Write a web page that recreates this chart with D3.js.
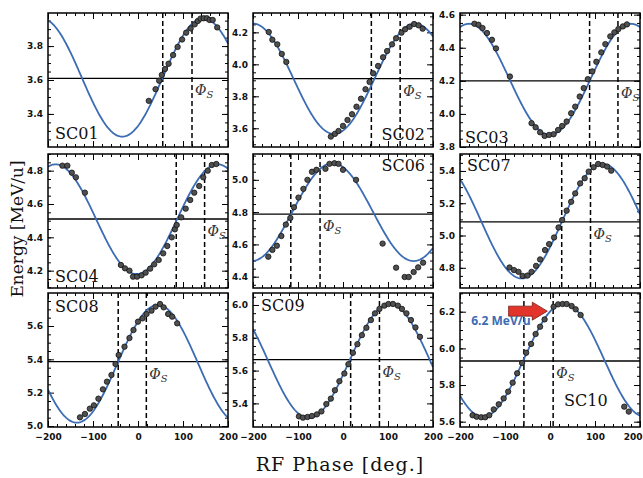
<!DOCTYPE html>
<html>
<head>
<meta charset="utf-8">
<script src="https://cdn.jsdelivr.net/npm/d3@7"></script>
<style>
    body { margin: 0; background: #fff; }
    svg { display: block; }
    .ticklab text { font-family: "DejaVu Sans"; font-weight: bold; font-size: 9px; fill: #111; }
    .ticks path.domain { display: none; }
    .ticks line { stroke: #000; stroke-width: 1; }
</style>
</head>
<body>
<div id="vis"></div>
<script>
// Cavity names, one panel each
var cavities = ["SC01", "SC02", "SC03", "SC04", "SC06", "SC07", "SC08", "SC09", "SC10"];

// Energy axis extent of each panel [MeV/u]
var energyRanges = [
    [3.205, 3.995], [3.483, 4.321], [3.8, 4.61],
    [4.096, 4.9], [4.33, 5.16], [4.675, 5.505],
    [4.994, 5.798], [5.256, 6.073], [5.571, 6.302]
];

// Phase axis [deg.]
var phaseRange = [-200, 200];

// Horizontal reference energy in each panel
var refEnergy = [3.61, 3.91, 4.2, 4.51, 4.787, 5.085, 5.386, 5.667, 5.931];

// Dashed phase markers, second one is the synchronous phase
var phaseMarks = [
    [55, 120], [63, 127], [88, 151],
    [85, 148], [-116, -51], [26, 90],
    [-44, 18.5], [17, 81], [-58, 7]
];

// Cosine fit of each scan: offset, amplitude, phase of the peak
var fitOffset = [3.615, 3.91, 4.21, 4.509, 4.80, 5.089, 5.373, 5.658, 5.936];
var fitAmplitude = [0.349, 0.345, 0.335, 0.329, 0.303, 0.355, 0.353, 0.348, 0.309];
var fitPeak = [145, 160, 180, 177, -23, 117, 44, 104, 31];

// Measured phase scans [phase, energy]
var scanSC01 = [[24,3.477],[39,3.546],[47,3.596],[53,3.63],[60,3.665],[68,3.696],[78,3.747],[88,3.795],
    [98,3.839],[107,3.879],[117,3.904],[126,3.928],[133,3.948],[139,3.962],[146,3.964],[153,3.964],
    [159,3.954],[166,3.954],[176,3.91]];
var scanSC02 = [[-165,4.202],[-157,4.154],[-146,4.125],[-136,4.065],[-126,4.015],[-27,3.548],[-18,3.565],
    [-10,3.583],[0,3.615],[10,3.652],[20,3.688],[30,3.735],[40,3.785],[50,3.844],[59,3.89],[67,3.944],
    [78,3.99],[89,4.044],[98,4.083],[109,4.125],[118,4.163],[130,4.198],[138,4.219],[148,4.235],
    [158,4.252],[168,4.244],[177,4.223]];
var scanSC03 = [[-168,4.545],[-159,4.539],[-150,4.519],[-140,4.489],[-129,4.448],[-120,4.396],[-89,4.226],
    [-41,3.944],[-32,3.919],[-22,3.889],[-12,3.867],[-2,3.873],[8,3.877],[18,3.903],[27,3.927],
    [37,3.954],[47,4.004],[56,4.044],[66,4.105],[75,4.156],[84,4.21],[94,4.257],[103,4.315],
    [114,4.372],[123,4.422],[134,4.469],[143,4.493],[152,4.513],[162,4.529],[171,4.541]];
var scanSC04 = [[-168,4.83],[-157,4.83],[-147,4.788],[-138,4.76],[-118,4.668],[-38,4.234],[-29,4.214],
    [-19,4.2],[-11,4.164],[-2,4.164],[8,4.172],[17,4.188],[27,4.212],[36,4.238],[46,4.264],
    [56,4.304],[65,4.348],[75,4.4],[82,4.448],[86,4.474],[96,4.52],[106,4.572],[116,4.624],
    [125,4.668],[136,4.708],[145,4.76],[155,4.8],[164,4.834],[174,4.84]];
var scanSC06 = [[-166,4.524],[-157,4.566],[-147,4.592],[-137,4.652],[-127,4.723],[-117,4.764],[-109,4.83],
    [-99,4.89],[-88,4.944],[-79,5.0],[-69,5.05],[-59,5.062],[-39,5.068],[-30,5.099],[-19,5.103],
    [-10,5.099],[0,5.062],[29,5.0],[88,4.605],[118,4.456],[137,4.398],[146,4.398],[157,4.429],
    [167,4.458],[178,4.487]];
var scanSC07 = [[-90,4.802],[-80,4.786],[-70,4.775],[-61,4.75],[-50,4.752],[-41,4.775],[-31,4.812],
    [-22,4.852],[-11,4.91],[-2,4.947],[9,4.988],[19,5.05],[27,5.096],[37,5.154],[47,5.209],
    [56,5.261],[67,5.323],[77,5.355],[86,5.396],[97,5.423],[107,5.443],[117,5.437],[127,5.427],
    [136,5.402]];
var scanSC08 = [[-129,5.052],[-118,5.072],[-107,5.104],[-98,5.124],[-88,5.164],[-78,5.22],[-69,5.266],
    [-59,5.306],[-50,5.372],[-43,5.426],[-30,5.476],[-19,5.528],[-10,5.576],[0,5.626],[10,5.646],
    [19,5.672],[30,5.692],[39,5.716],[49,5.732],[57,5.712],[67,5.672],[76,5.656],[87,5.616]];
var scanSC09 = [[-98,5.321],[-89,5.313],[-79,5.317],[-69,5.323],[-58,5.333],[-48,5.351],[-37,5.396],
    [-27,5.429],[-18,5.48],[-8,5.535],[3,5.582],[12,5.639],[22,5.708],[32,5.761],[42,5.816],
    [52,5.861],[62,5.908],[71,5.949],[81,5.976],[92,5.996],[101,6.006],[111,6.006],[122,5.996],
    [131,5.976],[141,5.949],[151,5.908],[161,5.863],[171,5.806]];
var scanSC10 = [[-172,5.635],[-163,5.627],[-153,5.624],[-144,5.624],[-135,5.635],[-125,5.667],[-114,5.695],
    [-103,5.727],[-93,5.764],[-83,5.813],[-73,5.864],[-62,5.92],[-53,5.976],[-42,6.024],[-32,6.078],
    [-22,6.118],[-12,6.158],[8,6.227],[18,6.24],[28,6.242],[37,6.242],[48,6.231],[57,6.213],
    [68,6.182],[165,5.682],[175,5.655]];
var scans = [scanSC01, scanSC02, scanSC03, scanSC04, scanSC06, scanSC07, scanSC08, scanSC09, scanSC10];

// SC10 annotation: arrow (tail, tip) and label anchor, in data units
var arrowTail = [-92, 6.203];
var arrowTip = [-6, 6.203];
var noteText = "6.2 MeV/u";
var noteAt = [-175, 6.125];

(function() {
    var width = 643, height = 478;
    var colX = [48, 253, 460], rowY = [13, 154, 293];
    var pw = 180, ph = 134;
    // where each cavity name goes inside its panel: [dx, baseline, anchor]
    var namePos = [[7, 126, "start"], [pw - 8, 127, "end"], [5, 130, "start"],
                   [7, 128, "start"], [pw - 8, 17, "end"], [7, 17, "start"],
                   [7, 19, "start"], [8, 18, "start"], [104, 113, "start"]];
    var blue = "#3b6cb4";

    var svg = d3.select("#vis").append("svg")
        .attr("width", width)
        .attr("height", height);

    svg.append("rect").attr("width", width).attr("height", height).attr("fill", "#fff");

    cavities.forEach(function(name, i) {
        var col = i % 3, row = Math.floor(i / 3);
        var g = svg.append("g").attr("transform", "translate(" + colX[col] + "," + rowY[row] + ")");

        var x = d3.scaleLinear().domain(phaseRange).range([0, pw]);
        var y = d3.scaleLinear().domain(energyRanges[i]).range([ph, 0]);

        var e0 = energyRanges[i][0], e1 = energyRanges[i][1];
        var yMajor = d3.range(Math.ceil(e0 * 5 - 1e-6), Math.floor(e1 * 5 + 1e-6) + 1).map(function(k) { return k / 5; });
        var yMinor = d3.range(Math.ceil(e0 * 20 - 1e-6), Math.floor(e1 * 20 + 1e-6) + 1).map(function(k) { return k / 20; });
        var xMajor = d3.range(-200, 201, 100);
        var xMinor = d3.range(-200, 201, 20);

        var clipId = "clip" + i;
        g.append("clipPath").attr("id", clipId)
            .append("rect").attr("width", pw).attr("height", ph);

        // minor ticks on four sides
        g.append("g").attr("class", "ticks").call(d3.axisLeft(y).tickValues(yMinor).tickSize(-3).tickFormat(""));
        g.append("g").attr("class", "ticks").attr("transform", "translate(" + pw + ",0)")
            .call(d3.axisRight(y).tickValues(yMinor).tickSize(-3).tickFormat(""));
        g.append("g").attr("class", "ticks").call(d3.axisTop(x).tickValues(xMinor).tickSize(-3).tickFormat(""));
        g.append("g").attr("class", "ticks").attr("transform", "translate(0," + ph + ")")
            .call(d3.axisBottom(x).tickValues(xMinor).tickSize(-3).tickFormat(""));

        // major ticks
        g.append("g").attr("class", "ticks ticklab")
            .call(d3.axisLeft(y).tickValues(yMajor).tickSize(-6).tickPadding(5).tickFormat(d3.format(".1f")));
        g.append("g").attr("class", "ticks").attr("transform", "translate(" + pw + ",0)")
            .call(d3.axisRight(y).tickValues(yMajor).tickSize(-6).tickFormat(""));
        g.append("g").attr("class", "ticks").call(d3.axisTop(x).tickValues(xMajor).tickSize(-6).tickFormat(""));
        var bottom = g.append("g").attr("class", "ticks ticklab").attr("transform", "translate(0," + ph + ")")
            .call(d3.axisBottom(x).tickValues(xMajor).tickSize(-6).tickPadding(7)
                .tickFormat(row === 2 ? d3.format("d") : ""));
        // keep the last label of the last panel inside the picture
        if (row === 2 && col === 2) {
            bottom.selectAll(".tick text")
                .filter(function(d) { return d === 200; })
                .attr("text-anchor", "end").attr("x", 2);
        }

        // reference energy
        g.append("line")
            .attr("x1", 0).attr("x2", pw)
            .attr("y1", y(refEnergy[i])).attr("y2", y(refEnergy[i]))
            .attr("stroke", "#000").attr("stroke-width", 1.3);

        // phase markers
        g.selectAll(".mark").data(phaseMarks[i]).enter().append("line")
            .attr("class", "mark")
            .attr("x1", function(d) { return x(d); }).attr("x2", function(d) { return x(d); })
            .attr("y1", 0).attr("y2", ph)
            .attr("stroke", "#000").attr("stroke-width", 1.5)
            .attr("stroke-dasharray", "5,3");

        // phi_s label
        var phi = g.append("text")
            .attr("x", x(phaseMarks[i][1]) + 3)
            .attr("y", y(refEnergy[i]) + 17)
            .attr("font-family", "DejaVu Serif")
            .attr("font-size", 14)
            .attr("fill", "#333");
        phi.append("tspan").attr("font-style", "italic").text("Φ");
        phi.append("tspan").attr("font-style", "italic").attr("font-size", 10).attr("dy", 3).text("S");

        // fitted curve
        var line = d3.line()
            .x(function(p) { return x(p); })
            .y(function(p) { return y(fitOffset[i] + fitAmplitude[i] * Math.cos((p - fitPeak[i]) * Math.PI / 180)); });
        g.append("path")
            .datum(d3.range(phaseRange[0], phaseRange[1] + 1, 2))
            .attr("clip-path", "url(#" + clipId + ")")
            .attr("fill", "none")
            .attr("stroke", blue)
            .attr("stroke-width", 1.8)
            .attr("d", line);

        // measurements
        g.selectAll(".pt").data(scans[i]).enter().append("circle")
            .attr("class", "pt")
            .attr("cx", function(d) { return x(d[0]); })
            .attr("cy", function(d) { return y(d[1]); })
            .attr("r", 2.7)
            .attr("fill", "#505050")
            .attr("stroke", "#111")
            .attr("stroke-width", 0.8);

        // frame
        g.append("rect")
            .attr("width", pw).attr("height", ph)
            .attr("fill", "none").attr("stroke", "#000").attr("stroke-width", 1.5);

        // cavity name
        g.append("text")
            .attr("x", namePos[i][0]).attr("y", namePos[i][1])
            .attr("text-anchor", namePos[i][2])
            .attr("font-family", "DejaVu Serif")
            .attr("font-size", 16)
            .attr("fill", "#111")
            .text(name);

        if (name === "SC10") {
            var ax0 = x(arrowTail[0]), ax1 = x(arrowTip[0]), ay = y(arrowTip[1]);
            var hl = 15;
            var arrow = d3.path();
            arrow.moveTo(ax0, ay - 5);
            arrow.lineTo(ax1 - hl, ay - 5);
            arrow.lineTo(ax1 - hl, ay - 9);
            arrow.lineTo(ax1, ay);
            arrow.lineTo(ax1 - hl, ay + 9);
            arrow.lineTo(ax1 - hl, ay + 5);
            arrow.lineTo(ax0, ay + 5);
            arrow.closePath();
            g.append("path").attr("d", arrow.toString())
                .attr("fill", "#e3342b").attr("stroke", "#7a1a14").attr("stroke-width", 0.8);

            g.append("text")
                .attr("x", x(noteAt[0])).attr("y", y(noteAt[1]))
                .attr("font-family", "Open Sans").attr("font-weight", "bold")
                .attr("font-size", 12).attr("fill", blue)
                .text(noteText);
        }
    });

    // axis titles
    svg.append("text")
        .attr("transform", "translate(23,229) rotate(-90)")
        .attr("text-anchor", "middle")
        .attr("font-family", "DejaVu Serif")
        .attr("font-size", 17)
        .attr("fill", "#111")
        .text("Energy [MeV/u]");

    svg.append("text")
        .attr("x", 340).attr("y", 471)
        .attr("text-anchor", "middle")
        .attr("font-family", "DejaVu Serif")
        .attr("font-size", 19)
        .attr("letter-spacing", 1)
        .attr("fill", "#111")
        .text("RF Phase [deg.]");
})();
</script>
</body>
</html>
